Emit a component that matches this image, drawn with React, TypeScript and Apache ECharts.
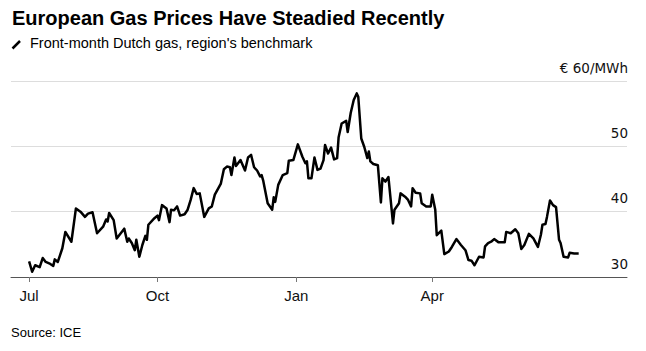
import React, { useEffect, useRef } from 'react';
import * as echarts from 'echarts';

const titleText = 'European Gas Prices Have Steadied Recently';
const legendText = "Front-month Dutch gas, region's benchmark";
const sourceText = 'Source: ICE';
const unitLabel = '€ 60/MWh';

const dates = [
  '2024-07-08','2024-07-10','2024-07-12','2024-07-15','2024-07-17','2024-07-19','2024-07-22','2024-07-24','2024-07-25','2024-07-27',
  '2024-07-30','2024-08-01','2024-08-05','2024-08-08','2024-08-11','2024-08-14','2024-08-16','2024-08-19','2024-08-22','2024-08-26',
  '2024-08-28','2024-08-29','2024-08-30','2024-09-02','2024-09-04','2024-09-09','2024-09-11','2024-09-12','2024-09-14','2024-09-16',
  '2024-09-17','2024-09-19','2024-09-21','2024-09-23','2024-09-24','2024-09-25','2024-09-29','2024-10-01','2024-10-02','2024-10-04',
  '2024-10-07','2024-10-09','2024-10-10','2024-10-12','2024-10-14','2024-10-16','2024-10-19','2024-10-21','2024-10-23','2024-10-25',
  '2024-10-27','2024-10-29','2024-11-01','2024-11-04','2024-11-06','2024-11-08','2024-11-12','2024-11-14','2024-11-16','2024-11-18',
  '2024-11-19','2024-11-21','2024-11-22','2024-11-25','2024-11-28','2024-11-30','2024-12-02','2024-12-04','2024-12-06','2024-12-08',
  '2024-12-09','2024-12-10','2024-12-13','2024-12-16','2024-12-17','2024-12-18','2024-12-20','2024-12-23','2024-12-26','2024-12-27',
  '2024-12-30','2025-01-02','2025-01-05','2025-01-07','2025-01-08','2025-01-09','2025-01-11','2025-01-13','2025-01-15','2025-01-17',
  '2025-01-19','2025-01-20','2025-01-22','2025-01-24','2025-01-26','2025-01-28','2025-01-29','2025-01-31','2025-02-03','2025-02-04',
  '2025-02-06','2025-02-08','2025-02-10','2025-02-11','2025-02-13','2025-02-15','2025-02-17','2025-02-18','2025-02-19','2025-02-21',
  '2025-02-24','2025-02-26','2025-02-27','2025-03-01','2025-03-03','2025-03-06','2025-03-07','2025-03-10','2025-03-11','2025-03-14',
  '2025-03-16','2025-03-18','2025-03-19','2025-03-21','2025-03-24','2025-03-25','2025-03-28','2025-03-31','2025-04-01','2025-04-03',
  '2025-04-04','2025-04-07','2025-04-09','2025-04-12','2025-04-14','2025-04-17','2025-04-20','2025-04-23','2025-04-25','2025-04-27',
  '2025-04-29','2025-05-02','2025-05-05','2025-05-06','2025-05-08','2025-05-10','2025-05-12','2025-05-15','2025-05-19','2025-05-20',
  '2025-05-23','2025-05-26','2025-05-28','2025-05-30','2025-06-01','2025-06-04','2025-06-07','2025-06-10','2025-06-12','2025-06-13',
  '2025-06-15','2025-06-16','2025-06-18','2025-06-20','2025-06-22','2025-06-24','2025-06-25','2025-06-27','2025-06-30','2025-07-01',
  '2025-07-04','2025-07-07'
];

const prices = [
  32.4, 30.8, 31.8, 31.5, 32.9, 32.3, 32.0, 31.7, 32.7, 32.3,
  34.4, 36.9, 35.4, 40.5, 40.0, 39.2, 39.7, 39.9, 36.7, 37.7,
  38.8, 38.5, 39.8, 38.7, 35.9, 37.4, 35.4, 35.9, 35.2, 34.1,
  35.7, 33.1, 34.9, 36.3, 35.7, 38.0, 39.0, 39.4, 38.7, 41.0,
  40.5, 38.4, 40.3, 40.2, 40.8, 39.4, 39.6, 40.3, 41.8, 43.6,
  42.7, 42.8, 39.2, 40.5, 40.8, 42.6, 44.3, 46.5, 46.9, 46.8,
  45.6, 48.3, 47.0, 47.9, 46.3, 48.3, 48.7, 46.8, 46.3, 45.4,
  45.6, 44.8, 41.3, 40.3, 42.2, 41.5, 44.1, 45.6, 45.9, 47.8,
  47.9, 50.3, 48.4, 47.4, 47.7, 45.1, 45.1, 48.3, 46.4, 46.6,
  47.9, 50.2, 48.9, 49.8, 48.0, 48.2, 51.4, 53.5, 53.9, 52.2,
  55.1, 57.1, 58.1, 57.6, 51.2, 49.9, 48.2, 49.2, 47.7, 47.3,
  47.1, 41.4, 45.1, 44.6, 45.3, 38.2, 40.3, 41.3, 42.8, 42.3,
  41.8, 40.8, 43.6, 42.9, 42.8, 41.3, 40.8, 40.8, 42.6, 40.3,
  36.4, 37.1, 33.5, 33.9, 34.6, 35.8, 34.9, 34.1, 32.6, 32.5,
  31.8, 33.1, 33.0, 34.7, 35.2, 35.4, 35.8, 35.3, 35.3, 36.9,
  36.7, 37.3, 36.7, 34.3, 34.9, 36.6, 35.9, 34.6, 36.5, 38.0,
  38.1, 39.2, 41.7, 41.0, 40.7, 35.7, 35.2, 33.1, 33.0, 33.7,
  33.6, 33.6
];

const tickDates = ['2024-07-08', '2024-10-01', '2025-01-01', '2025-04-01'];
const tickLabels = ['Jul', 'Oct', 'Jan', 'Apr'];
const yTicks = [30, 40, 50, 60];
const axisStart = '2024-06-26';
const axisEnd = '2025-08-08';

const ts = (s: string) => Date.parse(s + 'T00:00:00Z');

export default function App() {
  const ref = useRef<HTMLDivElement>(null);

  useEffect(() => {
    if (!ref.current) return;
    const chart = echarts.init(ref.current, null, { renderer: 'svg' });
    const tickValues = tickDates.map(ts);
    const option: any = {
      animation: false,
      backgroundColor: '#ffffff',
      grid: { left: 11, right: 19, top: 81, bottom: 74 },
      xAxis: {
        type: 'value',
        min: ts(axisStart),
        max: ts(axisEnd),
        scale: true,
        splitLine: { show: false },
        axisLine: { show: true, onZero: false, lineStyle: { color: '#555555', width: 1 } },
        axisTick: {
          show: true,
          length: 5,
          customValues: tickValues,
          lineStyle: { color: '#777777', width: 1 },
        },
        axisLabel: {
          customValues: tickValues,
          margin: 11,
          color: '#111111',
          fontSize: 15,
          fontFamily: 'Liberation Sans, Arial, sans-serif',
          formatter: (v: number) => {
            const i = tickValues.indexOf(v);
            return i >= 0 ? tickLabels[i] : '';
          },
        },
      },
      yAxis: {
        type: 'value',
        position: 'right',
        min: yTicks[0],
        max: yTicks[yTicks.length - 1],
        interval: 10,
        axisLine: { show: false },
        axisTick: { show: false },
        splitLine: { show: true, lineStyle: { color: '#dddddd', width: 1 } },
        axisLabel: {
          inside: true,
          margin: -1,
          align: 'right',
          verticalAlign: 'bottom',
          lineHeight: 27,
          color: '#111111',
          fontSize: 13.5,
          fontFamily: 'DejaVu Sans, sans-serif',
          formatter: (v: number) => (v === yTicks[yTicks.length - 1] ? unitLabel : String(v)),
        },
      },
      series: [
        {
          type: 'line',
          data: dates.map((d, i) => [ts(d), prices[i]]),
          showSymbol: false,
          symbol: 'none',
          lineStyle: { color: '#000000', width: 2.5, join: 'round' },
          z: 3,
        },
      ],
      graphic: [
        {
          type: 'text',
          left: 12,
          top: 8,
          style: {
            text: titleText,
            font: 'bold 20px "Liberation Sans", Arial, sans-serif',
            fill: '#000000',
          },
        },
        {
          type: 'line',
          shape: { x1: 12.5, y1: 48.5, x2: 20, y2: 41 },
          style: { stroke: '#000000', lineWidth: 2.5 },
        },
        {
          type: 'text',
          left: 30,
          top: 35,
          style: {
            text: legendText,
            font: '14.5px "Liberation Sans", Arial, sans-serif',
            fill: '#000000',
          },
        },
        {
          type: 'text',
          left: 11,
          top: 326,
          style: {
            text: sourceText,
            font: '13px "Liberation Sans", Arial, sans-serif',
            fill: '#000000',
          },
        },
      ],
    };
    chart.setOption(option);
    return () => chart.dispose();
  }, []);

  return (
    <div
      ref={ref}
      style={{ position: 'fixed', left: 0, top: 0, width: 646, height: 351 }}
    />
  );
}
